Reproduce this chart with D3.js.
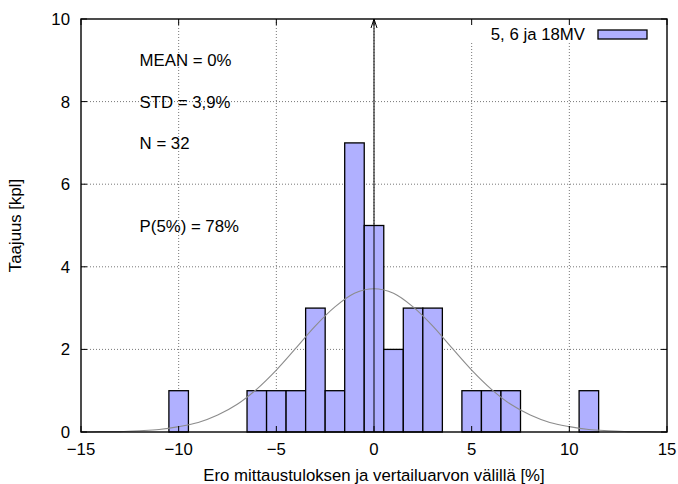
<!DOCTYPE html>
<html>
<head>
<meta charset="utf-8">
<script src="https://cdn.jsdelivr.net/npm/d3@7"></script>
<style>
  body { margin: 0; background: #fff; }
  text { font-family: "Liberation Sans", Arial, sans-serif; fill: #000; }
</style>
</head>
<body>
<div id="canvas"></div>
<script>
// Data
var bin_centers = [-10, -6, -5, -4, -3, -2, -1, 0, 1, 2, 3, 5, 6, 7, 11]
var bin_counts  = [1, 1, 1, 1, 3, 1, 7, 5, 2, 3, 3, 1, 1, 1, 1]
// fitted normal curve
var curve_x = [-15, -14, -13, -12, -11, -10, -9, -8, -7, -6, -5, -4, -3, -2, -1, 0, 1, 2, 3, 4, 5, 6, 7, 8, 9, 10, 11, 12, 13, 14, 15]
var curve_y = [0, 0.01, 0.01, 0.03, 0.06, 0.13, 0.23, 0.41, 0.67, 1.04, 1.5, 2.03, 2.57, 3.03, 3.36, 3.47, 3.36, 3.03, 2.57, 2.03, 1.5, 1.04, 0.67, 0.41, 0.23, 0.13, 0.06, 0.03, 0.01, 0.01, 0]
var x_ticks = [-15, -10, -5, 0, 5, 10, 15]
var y_ticks = [0, 2, 4, 6, 8, 10]
var stat_labels = ["MEAN = 0%", "STD = 3,9%", "N = 32", "P(5%) = 78%"]
var stat_label_y = [9, 8, 7, 5]
var legend_label = "5, 6 ja 18MV"
var x_title = "Ero mittaustuloksen ja vertailuarvon välillä [%]"
var y_title = "Taajuus [kpl]"

// Display variables
var total_width = 678, total_height = 484
var margin = {top: 19, right: 11, bottom: 52, left: 81}
var width = total_width - margin.left - margin.right
var height = total_height - margin.top - margin.bottom
var bar_colour = "#b0b0ff"
var font_size = 16.8
var tick_len = 6

var svg_outer = d3.select("#canvas").append("svg").attr("width", total_width).attr("height", total_height)
var svg = svg_outer.append("g").attr("transform", "translate(" + margin.left + "," + margin.top + ")")

// Scales
var x = d3.scaleLinear().domain([-15, 15]).range([0, width])
var y = d3.scaleLinear().domain([0, 10]).range([height, 0])
var fmt = d => d < 0 ? "\u2212" + Math.abs(d) : String(d)

// Grid (dotted)
var grid = svg.append("g").attr("class", "grid")
grid.selectAll(".gx").data(x_ticks.filter(d => d > -15 && d < 15)).enter().append("line")
    .attr("x1", d => x(d)).attr("x2", d => x(d)).attr("y1", 0).attr("y2", height)
grid.selectAll(".gy").data(y_ticks.filter(d => d > 0 && d < 10)).enter().append("line")
    .attr("x1", 0).attr("x2", width).attr("y1", d => y(d)).attr("y2", d => y(d))
grid.selectAll("line").attr("stroke", "#777").attr("stroke-width", 1).attr("stroke-dasharray", "1,2")

// Legend background hides grid behind key
svg.append("rect").attr("x", 385).attr("y", 0).attr("width", width - 385).attr("height", 24).attr("fill", "#fff")

// Bars
svg.append("g").selectAll("rect")
    .data(bin_centers.map((c, i) => ({c: c, n: bin_counts[i]})))
    .enter().append("rect")
    .attr("x", d => x(d.c - 0.5))
    .attr("width", d => x(d.c + 0.5) - x(d.c - 0.5))
    .attr("y", d => y(d.n))
    .attr("height", d => y(0) - y(d.n))
    .attr("fill", bar_colour)
    .attr("stroke", "#000")
    .attr("stroke-width", 1.3)

// Normal curve
var line = d3.line().x(d => x(d[0])).y(d => y(d[1])).curve(d3.curveCatmullRom)
svg.append("path")
    .datum(curve_x.map((v, i) => [v, curve_y[i]]))
    .attr("d", line)
    .attr("fill", "none")
    .attr("stroke", "#8c8c8c")
    .attr("stroke-width", 1.1)

// Arrow at zero
var ax = x(0)
svg.append("line").attr("x1", ax).attr("x2", ax).attr("y1", y(0)).attr("y2", y(10))
    .attr("stroke", "#000").attr("stroke-width", 1)
svg.append("path")
    .attr("d", `M${ax - 3},${y(10) + 9}L${ax},${y(10)}L${ax + 3},${y(10) + 9}`)
    .attr("fill", "none").attr("stroke", "#000").attr("stroke-width", 1)

// Frame
svg.append("rect").attr("x", 0).attr("y", 0).attr("width", width).attr("height", height)
    .attr("fill", "none").attr("stroke", "#000").attr("stroke-width", 1.4)

// Ticks, mirrored inside on all sides
var ticks = svg.append("g").attr("stroke", "#000").attr("stroke-width", 1)
x_ticks.forEach(d => {
    ticks.append("line").attr("x1", x(d)).attr("x2", x(d)).attr("y1", height).attr("y2", height - tick_len)
    ticks.append("line").attr("x1", x(d)).attr("x2", x(d)).attr("y1", 0).attr("y2", tick_len)
})
y_ticks.forEach(d => {
    ticks.append("line").attr("x1", 0).attr("x2", tick_len).attr("y1", y(d)).attr("y2", y(d))
    ticks.append("line").attr("x1", width).attr("x2", width - tick_len).attr("y1", y(d)).attr("y2", y(d))
})

// Tick labels
svg.append("g").selectAll("text").data(x_ticks).enter().append("text")
    .attr("x", d => x(d)).attr("y", height + 23)
    .attr("text-anchor", "middle").style("font-size", font_size + "px")
    .text(fmt)
svg.append("g").selectAll("text").data(y_ticks).enter().append("text")
    .attr("x", -11).attr("y", d => y(d)).attr("dy", "0.36em")
    .attr("text-anchor", "end").style("font-size", font_size + "px")
    .text(fmt)

// Axis titles
svg.append("text")
    .attr("text-anchor", "middle").style("font-size", font_size + "px")
    .attr("transform", "translate(" + (width / 2) + "," + (height + 49) + ")")
    .text(x_title)
svg.append("text")
    .attr("text-anchor", "middle").style("font-size", font_size + "px")
    .attr("transform", "translate(" + (21 - margin.left) + "," + (height / 2) + ") rotate(-90)")
    .text(y_title)

// Statistics labels
svg.append("g").selectAll("text").data(stat_labels).enter().append("text")
    .attr("x", x(-12)).attr("y", (d, i) => y(stat_label_y[i])).attr("dy", "0.36em")
    .style("font-size", font_size + "px")
    .text(d => d)

// Legend
svg.append("text")
    .attr("x", 585 - margin.left).attr("y", 40 - margin.top)
    .attr("text-anchor", "end").style("font-size", font_size + "px")
    .text(legend_label)
svg.append("rect")
    .attr("x", 598 - margin.left).attr("y", 30 - margin.top).attr("width", 49).attr("height", 9)
    .attr("fill", bar_colour).attr("stroke", "#000").attr("stroke-width", 1.3)
</script>
</body>
</html>
